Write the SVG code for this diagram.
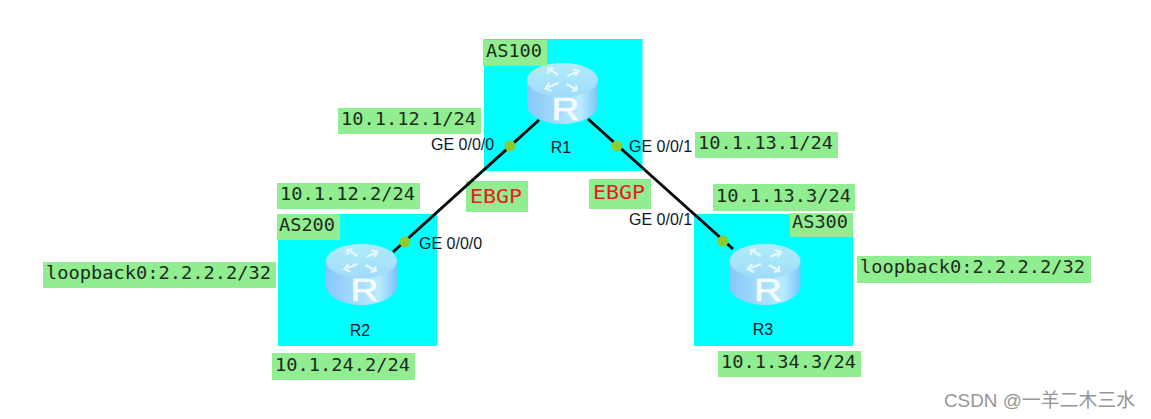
<svg xmlns="http://www.w3.org/2000/svg" width="1151" height="419" viewBox="0 0 1151 419">
<style>
.as{fill:#00ffff}
.lb{fill:#90ee90}
.m{font-family:"DejaVu Sans Mono",monospace;font-size:17px;fill:#1e2a1e}
.s{font-family:"Liberation Sans",Arial,sans-serif;font-size:16px;fill:#0b1a2a}
.e{font-family:"DejaVu Sans Mono",monospace;font-size:20px;fill:#e81c1c}
.d{fill:#8ccc30}
.l{stroke:#0a0a0a;stroke-width:3;fill:none}
.a{fill:none;stroke:#e6f8ff;stroke-width:2.200}
</style>
<defs>
<linearGradient id="body" x1="0" x2="1" y1="0" y2="0"><stop offset="0" stop-color="#86c8f8"/><stop offset=".45" stop-color="#a8dcfc"/><stop offset=".75" stop-color="#b8ecff"/><stop offset="1" stop-color="#7cc4f6"/></linearGradient>
<linearGradient id="top" x1="0" x2="0" y1="0" y2="1"><stop offset="0" stop-color="#b0ecfb"/><stop offset="1" stop-color="#a0dcfa"/></linearGradient>
<g id="router">
<path d="M-35.5 -25V0C-35.5 11 -17 19 0 19S35.5 11 35.5 0V-25Z" fill="url(#body)"/>
<ellipse cx="0" cy="-25" rx="35.5" ry="17" fill="url(#top)"/>
<path class="a" d="M-4 -30L-12 -35M-14 -31L-14 -36L-9 -37M4 -21L13 -16M14 -20L14 -15L9 -14M5 -29L14 -33M10 -36L16 -34L13 -29M-4 -22L-14 -18M-11 -14L-17 -17L-13 -22"/>
<text x="3" y="15" text-anchor="middle" textLength="28" lengthAdjust="spacingAndGlyphs" style="font-family:'Liberation Sans',sans-serif;font-size:31px;fill:#f4fcff;stroke:#f4fcff;stroke-width:.6">R</text>
</g>
</defs>
<rect width="1151" height="419" fill="#fff"/>
<g id="as100"><rect class="as" x="484" y="39" width="158.500" height="132"/></g>
<g id="as200"><rect class="as" x="278" y="214" width="159" height="132"/></g>
<g id="as300"><rect class="as" x="694" y="214" width="159" height="132"/></g>
<g id="R1"><use href="#router" x="562.500" y="105"/><text class="s" x="561" y="153" text-anchor="middle">R1</text></g>
<g id="R2"><use href="#router" x="361.500" y="286"/><text class="s" x="360" y="336" text-anchor="middle">R2</text></g>
<g id="R3"><use href="#router" x="765" y="286"/><text class="s" x="763" y="335" text-anchor="middle">R3</text></g>
<g id="labels">
<rect class="lb" x="483" y="40" width="64" height="26"/><text class="m" x="486" y="57" textLength="56" lengthAdjust="spacingAndGlyphs">AS100</text>
<rect class="lb" x="277" y="214" width="63" height="26"/><text class="m" x="279" y="231" textLength="56" lengthAdjust="spacingAndGlyphs">AS200</text>
<rect class="lb" x="790" y="213" width="63" height="24"/><text class="m" x="792" y="228" textLength="56" lengthAdjust="spacingAndGlyphs">AS300</text>
<rect class="lb" x="338" y="108" width="143" height="26"/><text class="m" x="341" y="125" textLength="135" lengthAdjust="spacingAndGlyphs">10.1.12.1/24</text>
<rect class="lb" x="695" y="132" width="143" height="26"/><text class="m" x="698" y="149" textLength="135" lengthAdjust="spacingAndGlyphs">10.1.13.1/24</text>
<rect class="lb" x="277" y="183" width="143" height="26"/><text class="m" x="280" y="200" textLength="135" lengthAdjust="spacingAndGlyphs">10.1.12.2/24</text>
<rect class="lb" x="713" y="184" width="142" height="27"/><text class="m" x="716" y="202" textLength="135" lengthAdjust="spacingAndGlyphs">10.1.13.3/24</text>
<rect class="lb" x="43" y="262" width="233" height="26"/><text class="m" x="46" y="279" textLength="225" lengthAdjust="spacingAndGlyphs">loopback0:2.2.2.2/32</text>
<rect class="lb" x="857" y="256" width="234" height="27"/><text class="m" x="860" y="273" textLength="225" lengthAdjust="spacingAndGlyphs">loopback0:2.2.2.2/32</text>
<rect class="lb" x="272" y="353" width="143" height="27"/><text class="m" x="275" y="371" textLength="135" lengthAdjust="spacingAndGlyphs">10.1.24.2/24</text>
<rect class="lb" x="718" y="351" width="143" height="26"/><text class="m" x="721" y="368" textLength="135" lengthAdjust="spacingAndGlyphs">10.1.34.3/24</text>
<rect class="lb" x="466" y="181" width="62" height="31"/><text class="e" x="470" y="203" textLength="52" lengthAdjust="spacingAndGlyphs">EBGP</text>
<rect class="lb" x="589" y="179" width="62" height="30"/><text class="e" x="593" y="199" textLength="52" lengthAdjust="spacingAndGlyphs">EBGP</text>
<text class="s" x="431" y="150">GE 0/0/0</text>
<text class="s" x="629" y="152">GE 0/0/1</text>
<text class="s" x="419" y="249">GE 0/0/0</text>
<text class="s" x="629" y="225">GE 0/0/1</text>
<text x="944" y="407" textLength="191" lengthAdjust="spacingAndGlyphs" style="font-family:'Liberation Sans','Noto Sans CJK SC',sans-serif;font-size:19px;fill:#969696">CSDN @一羊二木三水</text>
</g>
<g id="connectors">
<path class="l" d="M539 120L393 252"/>
<path class="l" d="M588 119L733 249"/>
<circle class="d" cx="510" cy="146" r="5.500"/>
<circle class="d" cx="405" cy="242" r="5.500"/>
<circle class="d" cx="617" cy="146" r="5.500"/>
<circle class="d" cx="723" cy="241" r="5.500"/>
</g>
</svg>
